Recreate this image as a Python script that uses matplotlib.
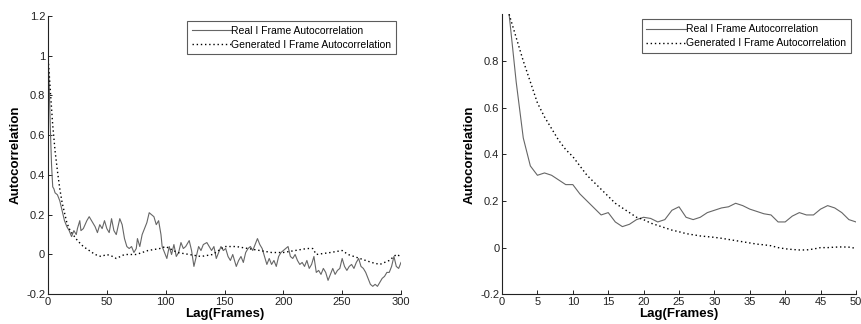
import matplotlib
matplotlib.use("Agg")
import matplotlib.pyplot as plt
from matplotlib.ticker import FuncFormatter

# ---- left panel: lags 0..300 ----
real_lag_a = [0, 1, 2, 3, 4, 5, 6, 8, 10, 12, 14, 16, 18, 20, 22, 24, 25, 27, 28, 30,
              33, 35, 38, 40, 42, 44, 46, 48, 50, 52, 54, 56, 58, 61, 63, 65, 67, 69,
              71, 73, 75, 76, 78, 80, 82, 84, 86, 88, 90, 92, 94, 96, 97, 99, 101, 103,
              105, 107, 109, 111, 113, 115, 117, 120, 122, 124, 126, 128, 130, 132, 135,
              137, 139, 141, 143, 145, 147, 149, 151, 153, 155, 157, 160, 162, 164, 166,
              168, 170, 172, 174, 176, 178, 180, 182, 184, 186, 188, 190, 192, 194, 196,
              198, 200, 202, 204, 206, 208, 210, 212, 214, 216, 218, 220, 222, 224, 226,
              228, 230, 232, 234, 236, 238, 240, 242, 244, 246, 248, 250, 252, 254, 256,
              258, 260, 262, 264, 266, 268, 270, 272, 274, 276, 278, 280, 282, 284, 286,
              288, 290, 292, 294, 296, 298, 300]
real_val_a = [1.0, 0.85, 0.63, 0.45, 0.34, 0.33, 0.31, 0.30, 0.27, 0.22, 0.17, 0.14, 0.12,
              0.09, 0.12, 0.10, 0.13, 0.17, 0.12, 0.13, 0.17, 0.19, 0.16, 0.14, 0.11, 0.15,
              0.13, 0.17, 0.13, 0.11, 0.18, 0.12, 0.10, 0.18, 0.15, 0.08, 0.04, 0.03, 0.04,
              0.01, 0.03, 0.08, 0.04, 0.10, 0.13, 0.16, 0.21, 0.20, 0.19, 0.15, 0.17, 0.10,
              0.04, 0.01, -0.02, 0.04, 0.00, 0.05, -0.01, 0.01, 0.06, 0.03, 0.04, 0.07,
              0.02, -0.06, -0.01, 0.04, 0.02, 0.05, 0.06, 0.04, 0.02, 0.04, -0.02, 0.01,
              0.04, 0.02, 0.03, -0.01, -0.03, 0.00, -0.06, -0.03, -0.01, -0.04, 0.01, 0.03,
              0.04, 0.02, 0.05, 0.08, 0.05, 0.03, -0.01, -0.05, -0.02, -0.05, -0.03, -0.06,
              -0.01, 0.01, 0.02, 0.03, 0.04, -0.01, -0.02, 0.00, -0.03, -0.05, -0.04, -0.06,
              -0.03, -0.07, -0.05, -0.01, -0.09, -0.08, -0.10, -0.07, -0.09, -0.13, -0.10,
              -0.07, -0.10, -0.08, -0.07, -0.02, -0.06, -0.08, -0.06, -0.05, -0.07, -0.04,
              -0.02, -0.06, -0.07, -0.09, -0.12, -0.15, -0.16, -0.15, -0.16, -0.14, -0.12,
              -0.11, -0.09, -0.09, -0.06, -0.01, -0.06, -0.07, -0.04]

gen_lag_a = [0, 2, 4, 6, 8, 10, 12, 14, 16, 18, 20, 25, 30, 35, 40, 45, 50, 55, 58, 65,
             75, 85, 95, 100, 110, 120, 130, 140, 150, 160, 170, 180, 190, 200, 210, 220,
             225, 228, 240, 250, 255, 265, 275, 282, 290, 296, 300]
gen_val_a = [1.0, 0.82, 0.65, 0.52, 0.42, 0.33, 0.26, 0.21, 0.16, 0.13, 0.11, 0.07, 0.04,
             0.02, 0.00, -0.01, 0.00, -0.01, -0.02, 0.00, 0.00, 0.02, 0.03, 0.04, 0.01,
             0.00, -0.01, 0.00, 0.04, 0.04, 0.03, 0.02, 0.01, 0.01, 0.02, 0.03, 0.03, 0.00,
             0.01, 0.02, 0.00, -0.02, -0.04, -0.05, -0.03, 0.00, -0.01]

# ---- right panel: lags 1..50 ----
lag_b = list(range(1, 51))
real_val_b = [1.0, 0.71, 0.47, 0.35, 0.31, 0.32, 0.31, 0.29, 0.27, 0.27, 0.23, 0.20, 0.17,
              0.14, 0.15, 0.11, 0.09, 0.10, 0.12, 0.13, 0.125, 0.11, 0.12, 0.16, 0.175,
              0.13, 0.12, 0.13, 0.15, 0.16, 0.17, 0.175, 0.19, 0.18, 0.165, 0.155, 0.145,
              0.14, 0.11, 0.11, 0.135, 0.15, 0.14, 0.14, 0.165, 0.18, 0.17, 0.15, 0.12, 0.11]
gen_val_b = [1.0, 0.90, 0.80, 0.71, 0.62, 0.56, 0.51, 0.46, 0.42, 0.39, 0.35, 0.31, 0.28,
             0.25, 0.22, 0.19, 0.17, 0.15, 0.13, 0.12, 0.105, 0.095, 0.085, 0.075, 0.068,
             0.06, 0.055, 0.05, 0.047, 0.044, 0.04, 0.035, 0.03, 0.025, 0.02, 0.015, 0.012,
             0.008, 0.0, -0.005, -0.008, -0.01, -0.01, -0.006, 0.0, 0.0, 0.002, 0.003,
             0.002, -0.003]

labels = ["Real I Frame Autocorrelation", "Generated I Frame Autocorrelation"]

plt.rcParams['font.family'] = ['Liberation Sans', 'DejaVu Sans']

fig = plt.figure(figsize=(8.62, 3.24), dpi=100)
ax1 = fig.add_axes([0.0557, 0.0917, 0.4095, 0.8598])
ax2 = fig.add_axes([0.5824, 0.0917, 0.4106, 0.8643])

# matlab-like tick labels: 1 instead of 1.0
fmt = FuncFormatter(lambda v, p: "%g" % round(v, 6))


def style(ax, xlim, xticks, ylim, yticks):
    ax.set_xlim(*xlim)
    ax.set_ylim(*ylim)
    ax.set_xticks(xticks)
    ax.set_yticks(yticks)
    ax.xaxis.set_major_formatter(fmt)
    ax.yaxis.set_major_formatter(fmt)
    for s in ['top', 'right']:
        ax.spines[s].set_visible(False)
    for s in ['left', 'bottom']:
        ax.spines[s].set_linewidth(0.8)
        ax.spines[s].set_color('#222222')
    ax.tick_params(direction='in', length=3, width=0.7, labelsize=8,
                   colors='#222222', pad=2)
    ax.set_xlabel("Lag(Frames)", fontsize=9.5, fontweight='bold', labelpad=1)
    ax.set_ylabel("Autocorrelation", fontsize=9.5, fontweight='bold', labelpad=3)
    leg = ax.legend(labels, loc='upper right', fontsize=7.5, frameon=True,
                    fancybox=False, handlelength=3.8, handletextpad=0.0,
                    borderpad=0.45, labelspacing=0.4, borderaxespad=0.5)
    leg.get_frame().set_edgecolor('#333333')
    leg.get_frame().set_linewidth(0.8)


ax1.plot(real_lag_a, real_val_a, color='#666666', lw=0.8)
ax1.plot(gen_lag_a, gen_val_a, color='black', lw=1.0, linestyle=(0, (1, 2)))
style(ax1, (0, 300), [0, 50, 100, 150, 200, 250, 300], (-0.2, 1.2),
      [-0.2, 0, 0.2, 0.4, 0.6, 0.8, 1.0, 1.2])

ax2.plot(lag_b, real_val_b, color='#666666', lw=0.8)
ax2.plot(lag_b, gen_val_b, color='black', lw=1.0, linestyle=(0, (1, 2)))
style(ax2, (0, 50), list(range(0, 51, 5)), (-0.2, 1.0),
      [-0.2, 0, 0.2, 0.4, 0.6, 0.8])

fig.savefig("out.png", dpi=100)
